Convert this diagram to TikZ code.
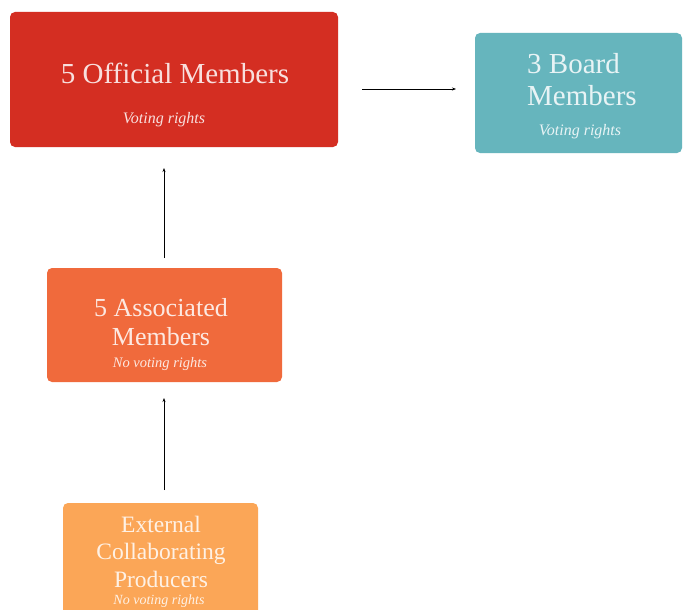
\documentclass[tikz,border=0pt]{standalone}
\usepackage{fontspec}
\setmainfont{Liberation Serif}
\usetikzlibrary{arrows.meta}
\definecolor{offred}{HTML}{D42E22}
\definecolor{boardteal}{HTML}{66B5BD}
\definecolor{assocorange}{HTML}{F06A3C}
\definecolor{extorange}{HTML}{FBA657}
\begin{document}
\begin{tikzpicture}[x=1pt,y=-1pt,
  box/.style={rounded corners=5pt,inner sep=0pt},
  lbl/.style={text=white,text opacity=0.85,align=center,inner sep=0pt,anchor=base},
  conn/.style={-{Stealth[length=4pt,width=3pt]},line width=0.8pt,black}]
\useasboundingbox (0,0) rectangle (683,610);
\fill[white] (0,0) rectangle (683,610);
% boxes
\fill[offred,box] (10,12) rectangle (338,147);
\fill[boardteal,box] (475,33) rectangle (682,153);
\fill[assocorange,box] (47,268) rectangle (282,382);
\fill[extorange,box] (63,503) rectangle (258,620);
% official
\node[lbl,font=\fontsize{29}{32}\selectfont] (official) at (175,84) {5 Official Members};
\node[lbl,font=\fontsize{16}{18}\selectfont\itshape] (offv) at (164,124) {Voting rights};
% board
\node[lbl,align=left,anchor=base west,font=\fontsize{29}{32}\selectfont] (board) at (527,105) {3 Board\\Members};
\node[lbl,font=\fontsize{16}{18}\selectfont\itshape] (boardv) at (580,135) {Voting rights};
% associated
\node[lbl,font=\fontsize{26}{29}\selectfont] (assoc) at (161,345) {5 Associated\\Members};
\node[lbl,font=\fontsize{14.5}{16}\selectfont\itshape] (assocv) at (160,367) {No voting rights};
% external
\node[lbl,font=\fontsize{23.5}{27.5}\selectfont] (ext) at (161,587) {External\\Collaborating\\Producers};
\node[lbl,font=\fontsize{14}{16}\selectfont\itshape] (extv) at (159,604) {No voting rights};
% connector endpoints
\coordinate (h1) at (362,89);
\coordinate (h2) at (456,89);
\coordinate (v1a) at (164,258);
\coordinate (v1b) at (164,168);
\coordinate (v2a) at (164,490);
\coordinate (v2b) at (164,398);
\draw[conn] (h1) -- (h2);
\draw[conn] (v1a) -- (v1b);
\draw[conn] (v2a) -- (v2b);
\end{tikzpicture}
\end{document}
